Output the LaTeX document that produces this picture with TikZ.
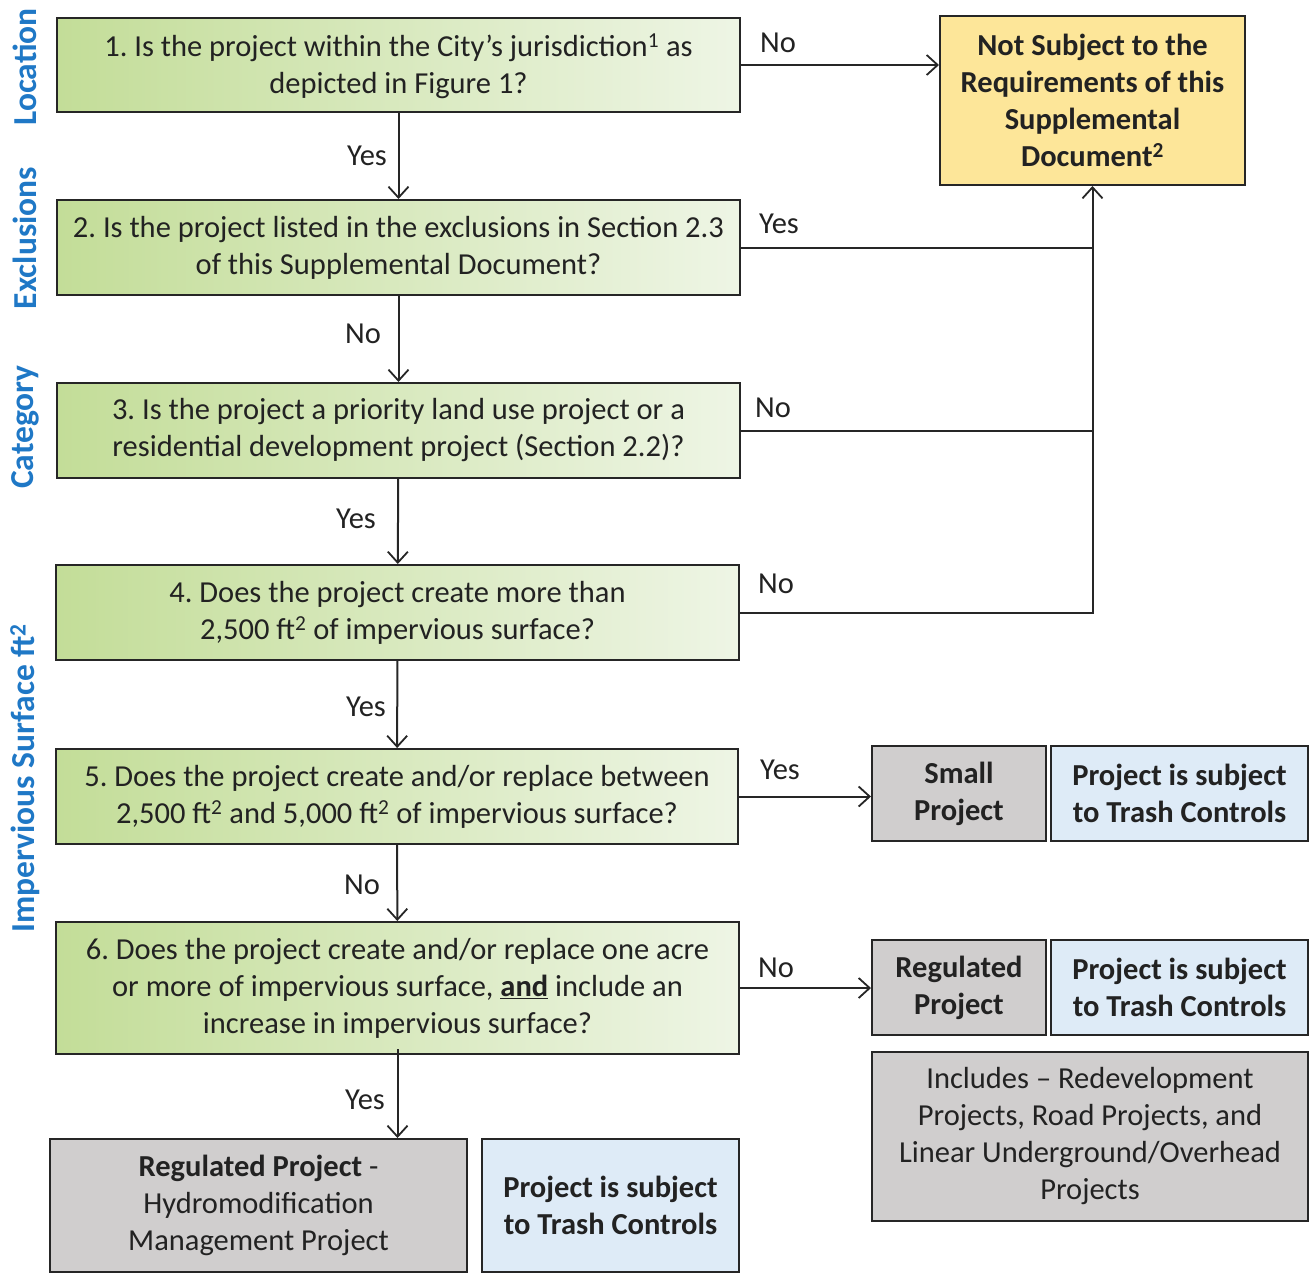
\documentclass[tikz,border=0pt]{standalone}
\usepackage{fontspec}
\setmainfont{Carlito}
\usetikzlibrary{arrows.meta}
\definecolor{gl}{HTML}{C3DD98}
\definecolor{gr}{HTML}{EEF5E5}
\definecolor{bord}{HTML}{262626}
\definecolor{txt}{HTML}{222222}
\definecolor{grayf}{HTML}{D0CECE}
\definecolor{bluef}{HTML}{DEEBF7}
\definecolor{yelf}{HTML}{FDE699}
\definecolor{sideblue}{HTML}{1F78C6}
\tikzset{
  base/.style={draw=bord, line width=2pt, align=center, text=txt, inner sep=0pt,
     font=\fontsize{30.5}{37}\selectfont\frenchspacing},
  qbox/.style={base, left color=gl, right color=gr, minimum width=683pt},
  graybox/.style={base, fill=grayf},
  bluebox/.style={base, fill=bluef},
  yelbox/.style={base, fill=yelf},
  lbl/.style={text=txt, font=\fontsize{30.5}{36}\selectfont, inner sep=0pt},
  side/.style={text=sideblue, font=\fontsize{33.5}{40}\selectfont\bfseries, rotate=90, inner sep=0pt},
  conn/.style={draw=bord, line width=2pt},
  arr/.style={conn, -{Straight Barb[length=11pt,width=20pt,line width=1.8pt]}}
}
\begin{document}
\begin{tikzpicture}[x=1pt,y=-1pt]
\useasboundingbox (0,0) rectangle (1314,1278);

% side labels
\node[side] (sl1) at (25,67) {Location};
\node[side] (sl2) at (25,238) {Exclusions};
\node[side] (sl3) at (25,427) {Category};
\node[side] (sl4) at (25,778) {Impervious Surface ft\textsuperscript{2}};

% question boxes
\node[qbox, minimum height=94pt, text depth=2pt] (b1) at (398.5,65) {1. Is the project within the City's jurisdiction\textsuperscript{1} as\\depicted in Figure 1?};
\node[qbox, minimum height=95pt] (b2) at (398.5,247.5) {2. Is the project listed in the exclusions in Section 2.3\\of this Supplemental Document?};
\node[qbox, minimum height=95pt] (b3) at (398.5,430.5) {3. Is the project a priority land use project or a\\residential development project (Section 2.2)?};
\node[qbox, minimum height=95pt] (b4) at (397.5,612.5) {4. Does the project create more than\\2,500 ft\textsuperscript{2} of impervious surface?};
\node[qbox, minimum height=95pt, minimum width=682pt] (b5) at (397,796.5) {5. Does the project create and/or replace between\\2,500 ft\textsuperscript{2} and 5,000 ft\textsuperscript{2} of impervious surface?};
\node[qbox, minimum height=132pt] (b6) at (397.5,988) {6. Does the project create and/or replace one acre\\or more of impervious surface, \underline{\textbf{and}} include an\\increase in impervious surface?};

% outcome boxes
\node[yelbox, minimum width=305pt, minimum height=169pt] (ns) at (1092.5,100.5) {\textbf{Not Subject to the}\\\textbf{Requirements of this}\\\textbf{Supplemental}\\\textbf{Document\textsuperscript{2}}};
\node[graybox, minimum width=174pt, minimum height=95pt] (sm) at (959,793.5) {\textbf{Small}\\\textbf{Project}};
\node[bluebox, minimum width=257pt, minimum height=95pt] (t1) at (1179.5,793.5) {\textbf{Project is subject}\\\textbf{to Trash Controls}};
\node[graybox, minimum width=174pt, minimum height=95pt] (rg) at (959,987.5) {\textbf{Regulated}\\\textbf{Project}};
\node[bluebox, minimum width=257pt, minimum height=95pt] (t2) at (1179.5,987.5) {\textbf{Project is subject}\\\textbf{to Trash Controls}};
\node[graybox, minimum width=436pt, minimum height=169pt] (inc) at (1090,1136.5) {Includes -- Redevelopment\\Projects, Road Projects, and\\Linear Underground/Overhead\\Projects};
\node[graybox, minimum width=417pt, minimum height=133pt] (hy) at (258.5,1205.5) {\textbf{Regulated Project} -\\Hydromodification\\Management Project};
\node[bluebox, minimum width=257pt, minimum height=133pt] (t3) at (610.5,1205.5) {\textbf{Project is subject}\\\textbf{to Trash Controls}};

% vertical flow
\draw[arr] (b1) -- (b2);
\draw[arr] (b2) -- (b3);
\draw[arr] (b3) -- (b4);
\draw[arr] (b4) -- (b5);
\draw[arr] (b5) -- (b6);
\coordinate (b6o) at ([yshift=6pt]b6.south);
\draw[arr] (b6o) -- (b6o |- hy.north);

% right flow
\draw[arr] (b1.east) -- (ns.west |- b1.east);
\draw[conn] (b2.east) -- (b2.east -| ns.south);
\draw[conn] (b3.east) -- (b3.east -| ns.south);
\draw[arr] (b4.east) -| (ns.south);
\draw[arr] (b5.east) -- (sm.west |- b5.east);
\draw[arr] (b6.east) -- (rg.west |- b6.east);

% labels
\node[lbl] (l1) at (367,156) {Yes};
\node[lbl] (l2) at (363,334) {No};
\node[lbl] (l3) at (356,519) {Yes};
\node[lbl] (l4) at (366,707) {Yes};
\node[lbl] (l5) at (362,885) {No};
\node[lbl] (l6) at (365,1100) {Yes};
\node[lbl] (r1) at (778,43) {No};
\node[lbl] (r2) at (779,224) {Yes};
\node[lbl] (r3) at (773,408) {No};
\node[lbl] (r4) at (776,584) {No};
\node[lbl] (r5) at (780,770) {Yes};
\node[lbl] (r6) at (776,968) {No};
\end{tikzpicture}
\end{document}
